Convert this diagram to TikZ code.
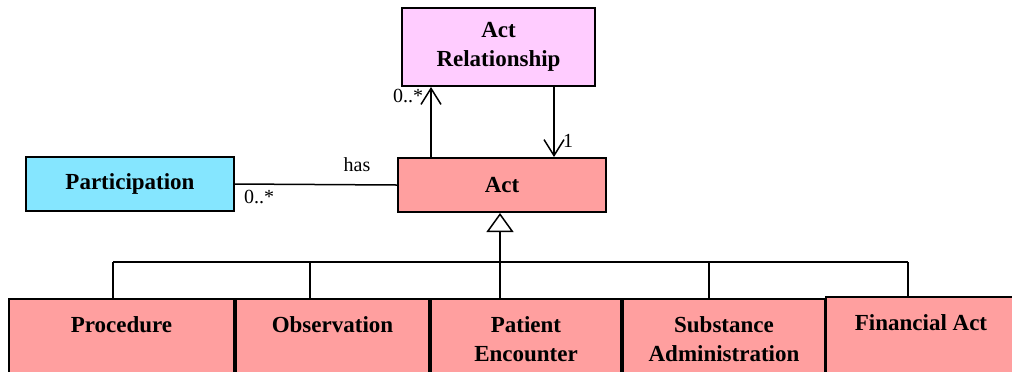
\documentclass[tikz,border=0pt]{standalone}
\usepackage{fontspec}
\setmainfont{Liberation Serif}
\usetikzlibrary{arrows.meta}
\definecolor{relfill}{HTML}{FFCCFF}
\definecolor{partfill}{HTML}{85E6FF}
\definecolor{actfill}{HTML}{FF9F9F}
\begin{document}
\begin{tikzpicture}[x=0.5pt,y=-0.5pt,
  box/.style={draw=black, line width=1pt, inner sep=0pt, align=center,
    font=\fontsize{11.5}{14.5}\selectfont\bfseries},
  child/.style={box, fill=actfill, anchor=north, text height=16.5pt, text depth=34.5pt},
  childtwo/.style={box, fill=actfill, anchor=north, text height=31pt, text depth=20pt},
  conn/.style={line width=0.75pt},
  assoc/.style={conn, -{Straight Barb[length=8pt,width=10pt,line width=0.75pt]}},
  inherit/.style={conn, -{Triangle[open,length=9.5pt,width=13.5pt,line width=0.75pt,fill=white]}},
  lbl/.style={inner sep=0pt, font=\fontsize{10}{12}\selectfont}]
\useasboundingbox (0,0) rectangle (1012,371);
\clip (0,0) rectangle (1012,371);

% classes
\node[box, fill=relfill, minimum width=96.5pt, minimum height=39pt] (actrel) at (498.5,47) {Act\\Relationship};
\node[box, fill=actfill, minimum width=104pt, minimum height=27pt] (act) at (502,185) {Act};
\node[box, fill=partfill, minimum width=104pt, minimum height=27pt] (part) at (130,184) {Participation};

% specialisations of Act
\node[child, minimum width=112.5pt] (proc) at (121.5,298) {Procedure};
\node[child, minimum width=96.5pt] (obs) at (332.5,298) {Observation};
\node[childtwo, minimum width=95pt] (enc) at (526,298) {Patient\\Encounter};
\node[childtwo, minimum width=101pt] (subst) at (724,298) {Substance\\Administration};
\node[child, minimum width=95pt] (fin) at (921,296) {Financial Act};

% Act -- ActRelationship associations
\coordinate (a1) at (431,0);
\coordinate (a2) at (554,0);
\draw[assoc] (a1 |- act.north) -- (a1 |- actrel.south);
\draw[assoc] (a2 |- actrel.south) -- (a2 |- act.north);
\node[lbl] (lblrelmult) at (408,96) {0..*};
\node[lbl] (lblone) at (568,141) {1};

% Participation -- Act association
\draw[conn] (part.east) -- (act.west);
\node[lbl] (lblhas) at (357,165) {has};
\node[lbl] (lblpartmult) at (259,197) {0..*};

% generalisation tree
\coordinate (d1) at (113,262);
\coordinate (d2) at (310,262);
\coordinate (d3) at (500,262);
\coordinate (d4) at (709,262);
\coordinate (d5) at (908,262);
\draw[conn] (d1) -- (d5);
\draw[conn] (d1) -- (d1 |- proc.north);
\draw[conn] (d2) -- (d2 |- obs.north);
\draw[conn] (d3) -- (d3 |- enc.north);
\draw[conn] (d4) -- (d4 |- subst.north);
\draw[conn] (d5) -- (d5 |- fin.north);
\draw[inherit] (d3) -- (d3 |- act.south);
\end{tikzpicture}
\end{document}
